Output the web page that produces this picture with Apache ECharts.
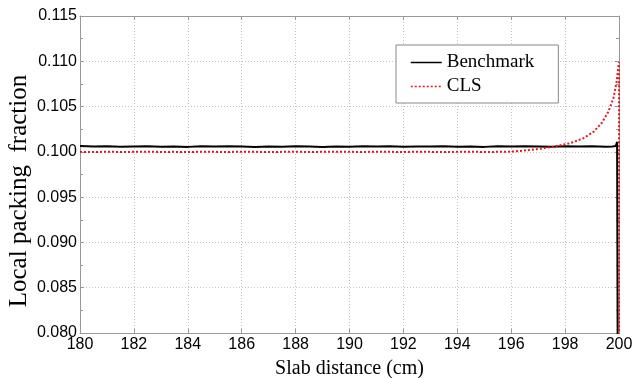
<!DOCTYPE html>
<html>
<head>
<meta charset="utf-8">
<script src="https://cdn.jsdelivr.net/npm/echarts@6/dist/echarts.min.js"></script>
<style>
  html, body { margin: 0; padding: 0; background: #fff; }
  #chart { width: 636px; height: 378px; }
</style>
</head>
<body>
<div id="chart"></div>
<script>
// slab distance (cm) and local packing fraction
const benchDist = [
  180, 180.5, 181, 181.5, 182, 182.5, 183, 183.5, 184, 184.5,
  185, 185.5, 186, 186.5, 187, 187.5, 188, 188.5, 189, 189.5,
  190, 190.5, 191, 191.5, 192, 192.5, 193, 193.5, 194, 194.5,
  195, 195.5, 196, 196.5, 197, 197.5, 198, 198.5, 199, 199.5,
  199.75, 199.88, 199.93, 199.95
];
const benchVal = [
  0.10064, 0.10058, 0.10061, 0.10056, 0.10060, 0.10063, 0.10057, 0.10060, 0.10055, 0.10061,
  0.10058, 0.10062, 0.10059, 0.10055, 0.10060, 0.10057, 0.10062, 0.10059, 0.10054, 0.10060,
  0.10057, 0.10061, 0.10058, 0.10062, 0.10056, 0.10060, 0.10058, 0.10063, 0.10057, 0.10060,
  0.10055, 0.10061, 0.10058, 0.10062, 0.10059, 0.10056, 0.10061, 0.10058, 0.10062, 0.10056,
  0.10059, 0.10064, 0.10110, 0.0790
];

const clsDist = [
  180, 180.5, 181, 181.5, 182, 182.5, 183, 183.5, 184, 184.5,
  185, 185.5, 186, 186.5, 187, 187.5, 188, 188.5, 189, 189.5,
  190, 190.5, 191, 191.5, 192, 192.5, 193, 193.5, 194, 194.5,
  195, 195.5, 196, 196.33, 196.95, 197.56, 198.18, 198.68, 199.05, 199.36,
  199.60, 199.79, 199.91, 199.97, 200, 200
];
const clsVal = [
  0.10000, 0.09998, 0.10001, 0.09999, 0.10000, 0.10002, 0.09999, 0.10000, 0.09998, 0.10001,
  0.10000, 0.09999, 0.10001, 0.10000, 0.09998, 0.10000, 0.10001, 0.09999, 0.10000, 0.10002,
  0.10000, 0.09999, 0.10001, 0.10000, 0.09999, 0.10001, 0.10000, 0.09998, 0.10000, 0.10001,
  0.09999, 0.10000, 0.10003, 0.10010, 0.10029, 0.10057, 0.10095, 0.1015, 0.1022, 0.1032,
  0.1044, 0.1059, 0.1077, 0.1092, 0.1099, 0.0790
];

const xTicks = { min: 180, max: 200, interval: 2 };
const yTicks = { min: 0.080, max: 0.115, interval: 0.005 };

const chart = echarts.init(document.getElementById('chart'));

const sans = 'Liberation Sans';
const serif = 'Liberation Serif';
const frame = '#999999';

// hidden-label axes on top/right just give the MATLAB-style box with ticks
const boxAxis = {
  axisLine: { show: true, lineStyle: { color: frame, width: 1 } },
  axisTick: { show: true, inside: true, length: 4, lineStyle: { color: frame } },
  axisLabel: { show: false },
  splitLine: { show: false }
};

const option = {
  backgroundColor: '#ffffff',
  animation: false,
  grid: { left: 80, right: 17, top: 16, bottom: 45, outerBoundsMode: 'none' },
  legend: {
    orient: 'vertical',
    left: 396,
    top: 45,
    backgroundColor: '#ffffff',
    borderColor: '#888888',
    borderWidth: 1,
    padding: [8, 24, 7, 14],
    itemGap: 5,
    itemWidth: 31,
    itemHeight: 10,
    lineStyle: { width: 1.5 },
    itemStyle: { opacity: 0 }, // line only, no marker dot
    textStyle: { fontFamily: serif, fontSize: 19, color: '#000' },
    data: ['Benchmark', 'CLS']
  },
  xAxis: [
    {
      type: 'value',
      ...xTicks,
      name: 'Slab distance (cm)',
      nameLocation: 'middle',
      nameGap: 26,
      nameMoveOverlap: false,
      nameTextStyle: { fontFamily: serif, fontSize: 20, color: '#000' },
      axisLine: { show: true, lineStyle: { color: frame, width: 1 } },
      axisTick: { show: true, inside: true, length: 4, lineStyle: { color: frame } },
      axisLabel: { fontFamily: sans, fontSize: 16, color: '#000', margin: 4 },
      splitLine: { show: true, lineStyle: { color: '#c4c4c4', type: [1, 2], width: 1 } }
    },
    { type: 'value', position: 'top', ...xTicks, ...boxAxis }
  ],
  yAxis: [
    {
      type: 'value',
      ...yTicks,
      name: 'Local packing  fraction',
      nameLocation: 'middle',
      nameGap: 48,
      nameMoveOverlap: false,
      nameTextStyle: { fontFamily: serif, fontSize: 25, color: '#000', padding: [0, 33, 0, 0] },
      axisLine: { show: true, lineStyle: { color: frame, width: 1 } },
      axisTick: { show: true, inside: true, length: 4, lineStyle: { color: frame } },
      minorTick: { show: true, splitNumber: 2, length: 3, lineStyle: { color: frame } },
      axisLabel: {
        fontFamily: sans, fontSize: 16, color: '#000', margin: 3,
        formatter: v => v.toFixed(3)
      },
      splitLine: { show: true, lineStyle: { color: '#c4c4c4', type: [1, 2], width: 1 } }
    },
    {
      type: 'value', position: 'right', ...yTicks, ...boxAxis,
      minorTick: { show: true, splitNumber: 2, length: 3, lineStyle: { color: frame } }
    }
  ],
  series: [
    {
      name: 'Benchmark',
      type: 'line',
      xAxisIndex: 0,
      yAxisIndex: 0,
      data: benchDist.map((d, i) => [d, benchVal[i]]),
      symbol: 'none',
      clip: true,
      color: '#000000',
      lineStyle: { color: '#000000', width: 2 },
      z: 3
    },
    {
      name: 'CLS',
      type: 'line',
      xAxisIndex: 0,
      yAxisIndex: 0,
      data: clsDist.map((d, i) => [d, clsVal[i]]),
      symbol: 'none',
      clip: true,
      color: '#e8141c',
      lineStyle: { color: '#e8141c', width: 2, type: [2, 2] },
      z: 4
    }
  ]
};

chart.setOption(option);
</script>
</body>
</html>
